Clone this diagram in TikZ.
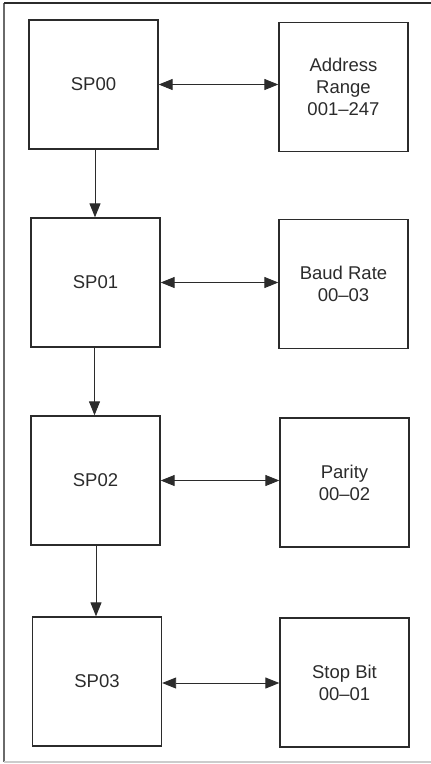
\documentclass[tikz,border=0pt]{standalone}
\usepackage{fontspec}
\setmainfont{Liberation Sans}
\usetikzlibrary{arrows.meta}
\definecolor{ink}{HTML}{2B2B2B}
\definecolor{frame}{HTML}{6A6A6A}
\definecolor{rule}{HTML}{CCCCCC}
\begin{document}
\begin{tikzpicture}[x=1pt,y=-1pt,
  blockbox/.style={draw=ink,line width=1.3pt,minimum width=129pt,minimum height=129pt,
    inner sep=0pt,align=center,text=ink,font=\fontsize{18.5}{22}\selectfont},
  link/.style={draw=ink,line width=0.9pt,{Triangle[length=14pt,width=11pt]}-{Triangle[length=14pt,width=11pt]}},
  flow/.style={draw=ink,line width=0.9pt,-{Triangle[length=14pt,width=11pt]}}]
  \useasboundingbox (0,0) rectangle (431,764);
  % outer frame
  \draw[frame,line width=2pt] (4,3) -- (4,762);
  \draw[ink,line width=1.2pt] (4,3) -- (431,3);
  \draw[rule,line width=1.2pt] (4,762) -- (431,762);
  % setup-parameter blocks
  \node[blockbox] (sp0) at (93.5,84.5) {SP00};
  \node[blockbox] (sp1) at (95.5,282.5) {SP01};
  \node[blockbox] (sp2) at (95.5,480.5) {SP02};
  \node[blockbox] (sp3) at (97,681.5) {SP03};
  % value ranges
  \node[blockbox] (addr) at (343.5,87) {Address\\Range\\001–247};
  \node[blockbox] (baud) at (343.5,284) {Baud Rate\\00–03};
  \node[blockbox] (par) at (344.5,482.5) {Parity\\00–02};
  \node[blockbox] (stop) at (344.5,682.5) {Stop Bit\\00–01};
  % sequence
  \draw[flow] (sp0.south) ++(1.5,0) coordinate (d0) -- (d0 |- sp1.north);
  \draw[flow] (sp1.south) ++(-1,0) coordinate (d1) -- (d1 |- sp2.north);
  \draw[flow] (sp2.south) ++(0.5,0) coordinate (d2) -- (d2 |- sp3.north);
  % bidirectional links
  \draw[link] (sp0.east) -- (sp0.east -| addr.west);
  \draw[link] (sp1.east) -- (sp1.east -| baud.west);
  \draw[link] (sp2.east) -- (sp2.east -| par.west);
  \draw[link] (sp3.east) ++(0,1.5) coordinate (l3) -- (l3 -| stop.west);
\end{tikzpicture}
\end{document}
